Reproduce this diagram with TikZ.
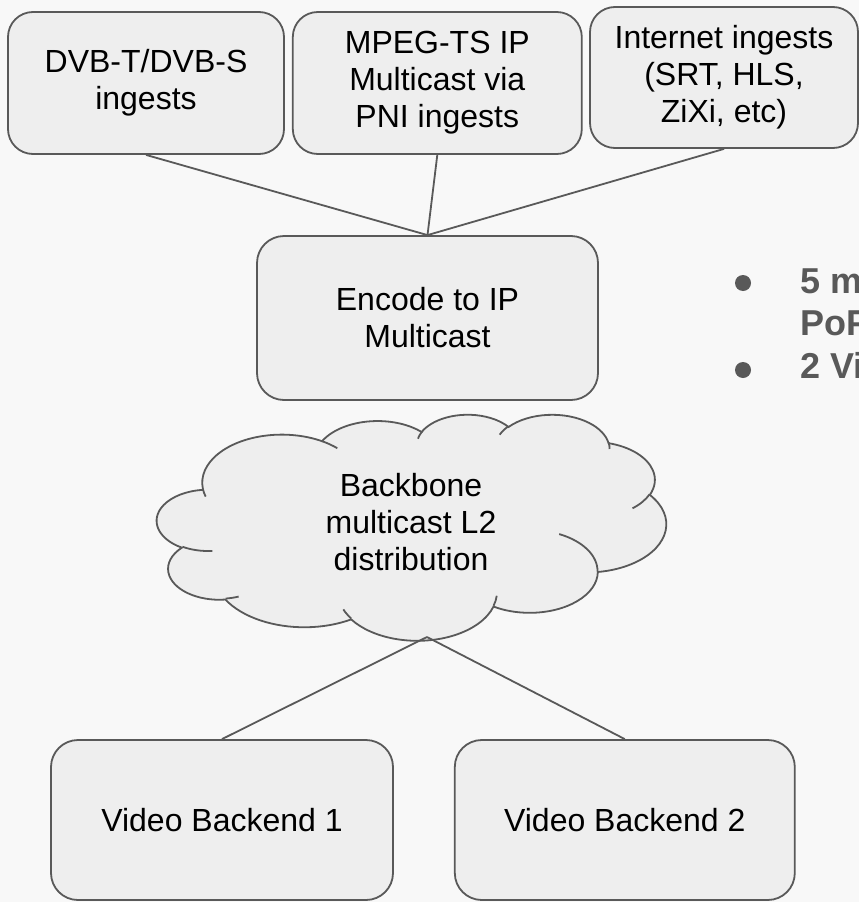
\documentclass[tikz,border=0pt]{standalone}
\usepackage{fontspec}
\setmainfont{Liberation Sans}
\usetikzlibrary{positioning}
\definecolor{bgGray}{HTML}{F8F8F8}
\definecolor{boxFill}{HTML}{EEEEEE}
\definecolor{boxLine}{HTML}{595959}
\definecolor{bulletGray}{HTML}{595959}

\begin{document}
\begin{tikzpicture}[x=1pt,y=-1pt,
  box/.style={draw=boxLine,fill=boxFill,line width=1.8pt,rounded corners=25pt,inner sep=0pt,align=center,font=\fontsize{32}{37}\selectfont},
  link/.style={draw=boxLine,line width=1.8pt},
  bul/.style={anchor=base west,inner sep=0pt,text=bulletGray,font=\bfseries\fontsize{36}{41}\selectfont}]

% page
\useasboundingbox (0,0) rectangle (859,902);
\clip (0,0) rectangle (859,902);
\fill[bgGray] (0,0) rectangle (859,902);

% the ingest boxes
\node[box,minimum width=276pt,minimum height=142pt] (dvb) at (146,83) {DVB-T/DVB-S\\ingests};
\node[box,minimum width=289pt,minimum height=142pt,right=7pt of dvb] (mpeg) {MPEG-TS IP\\Multicast via\\PNI ingests};
\node[box,minimum width=268pt,minimum height=141pt] (inet) at (724,77.5) {Internet ingests\\(SRT, HLS,\\ZiXi, etc)};

% encoder
\node[box,minimum width=341pt,minimum height=164pt,rounded corners=27pt] (enc) at (427.5,318) {Encode to IP\\Multicast};

% draw the cloud (outline, then the inner arcs)
\begin{scope}[shift={(157,414)},x=1.1785pt,y=-0.5231pt]
\filldraw[fill=boxFill,draw=boxLine,line width=1.8pt] (39,143.7)
  \foreach \wR/\hR/\stA/\swA in {67.53/91.90/-190.48748/123.78053,
    53.33/72.67/-144.10238/89.94523,
    43.65/59.45/-145.80792/99.72302,
    48.57/65.95/-130.98607/117.24173,
    53.33/72.73/-78.70888/109.02692,
    67.75/92.20/-46.26725/130.269,
    57.85/78.67/0.62502/114.03333,
    67.52/92.15/22.4516/115.17255,
    77.20/105.43/66.24263/75.71102,
    43.60/59.18/-274.94208/146.73557,
    43.45/59.45/-246.8285/152.51885}
  { arc[x radius=\wR,y radius=\hR,start angle={atan2(\wR*sin(\stA),\hR*cos(\stA))},
        delta angle={mod(atan2(\wR*sin(\stA+\swA),\hR*cos(\stA+\swA))-atan2(\wR*sin(\stA),\hR*cos(\stA))+720,360)}] } -- cycle;
\draw[boxLine,line width=1.8pt]
  \foreach \px/\py/\wR/\hR/\stA/\swA in {46.93/261.77/43.45/59.45/86.742/26.4295,
    69.28/348.99/43.60/59.18/73.6105/11.4475,
    164.78/390.90/67.52/92.15/137.6242/14.0811,
    288.27/347.51/67.52/92.15/6.4533/15.9984,
    341.29/229.54/57.85/78.67/-70.2924/70.9174,
    417.98/153.54/53.33/72.73/30.3180/27.7515,
    383.24/54.26/48.57/65.95/-13.7443/14.8589,
    290.78/39.52/48.57/65.95/-149.1815/18.1954,
    221.41/47.20/43.65/59.45/-163.4943/17.6864,
    140.00/51.92/67.53/91.90/-66.7070/12.3194,
    41.27/157.89/67.53/91.90/157.6544/11.8582}
  { (\px,\py) arc[x radius=\wR,y radius=\hR,start angle={atan2(\wR*sin(\stA),\hR*cos(\stA))},
        delta angle={mod(atan2(\wR*sin(\stA+\swA),\hR*cos(\stA+\swA))-atan2(\wR*sin(\stA),\hR*cos(\stA))+720,360)}] };
\end{scope}
\node[align=center,inner sep=0pt,font=\fontsize{32}{37}\selectfont] (bbone) at (411,522) {Backbone\\multicast L2\\distribution};
\coordinate (cloudBot) at (427,637);

% backends
\node[box,minimum width=342pt,minimum height=160pt,rounded corners=27pt] (vb1) at (222,820) {Video Backend 1};
\node[box,minimum width=340pt,minimum height=160pt,rounded corners=27pt,right=60pt of vb1] (vb2) {Video Backend 2};

% connectors
\draw[link] (dvb.south) -- (enc.north);
\draw[link] (mpeg.south) -- (enc.north);
\draw[link] (inet.south) -- (enc.north);
\draw[link] (cloudBot) -- (vb1.north);
\draw[link] (cloudBot) -- (vb2.north);

% bullets on the right
\fill[bulletGray] (743,283) circle (8);
\fill[bulletGray] (743,370) circle (8);
\node[bul] (popA) at (800,293) {5 m};
\node[bul] (popB) at (800,335) {PoP};
\node[bul] (vidA) at (800,378) {2 Vi};

\end{tikzpicture}
\end{document}
